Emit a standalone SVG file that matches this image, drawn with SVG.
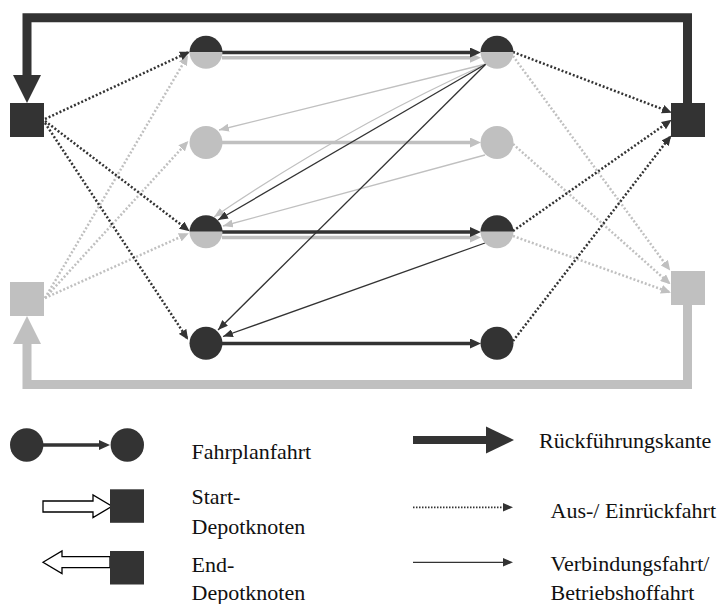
<svg xmlns="http://www.w3.org/2000/svg" width="719" height="604" viewBox="0 0 719 604">
  <style>
    .dk { fill: #333333; }
    .gy { fill: #c0c0c0; }
    .trip-dk { stroke: #333333; stroke-width: 3.5; fill: none; }
    .trip-gy { stroke: #c0c0c0; stroke-width: 3.5; fill: none; }
    .dot-dk { stroke: #333333; stroke-width: 2.5; stroke-dasharray: 2 2; fill: none; }
    .dot-gy { stroke: #c0c0c0; stroke-width: 2.5; stroke-dasharray: 2 2; fill: none; }
    .thin-dk { stroke: #333333; stroke-width: 1.3; fill: none; }
    .thin-gy { stroke: #c0c0c0; stroke-width: 1.3; fill: none; }
    .back-dk { stroke: #333333; stroke-width: 9; fill: none; }
    .back-gy { stroke: #c0c0c0; stroke-width: 9; fill: none; }
    .hollow { fill: #ffffff; stroke: #000000; stroke-width: 1.3; }
    .lbl { font-family: "Liberation Serif", "Times New Roman", serif; font-size: 22px; fill: #111111; }
  </style>
  <defs>
    <marker id="m-trip-dk" markerUnits="userSpaceOnUse" markerWidth="11" markerHeight="10" refX="1" refY="5" orient="auto"><path d="M0,0 L11,5 L0,10 z" class="dk"/></marker>
    <marker id="m-trip-gy" markerUnits="userSpaceOnUse" markerWidth="11" markerHeight="10" refX="1" refY="5" orient="auto"><path d="M0,0 L11,5 L0,10 z" class="gy"/></marker>
    <marker id="m-dot-dk" markerUnits="userSpaceOnUse" markerWidth="10" markerHeight="9" refX="8" refY="4.5" orient="auto"><path d="M0,0 L10,4.5 L0,9 z" class="dk"/></marker>
    <marker id="m-dot-gy" markerUnits="userSpaceOnUse" markerWidth="10" markerHeight="9" refX="8" refY="4.5" orient="auto"><path d="M0,0 L10,4.5 L0,9 z" class="gy"/></marker>
    <marker id="m-thin-dk" markerUnits="userSpaceOnUse" markerWidth="10" markerHeight="8" refX="10" refY="4" orient="auto"><path d="M0,0 L10,4 L0,8 z" class="dk"/></marker>
    <marker id="m-thin-gy" markerUnits="userSpaceOnUse" markerWidth="10" markerHeight="8" refX="10" refY="4" orient="auto"><path d="M0,0 L10,4 L0,8 z" class="gy"/></marker>
  </defs>

  <!-- connectors -->
  <g id="connectors">
    <!-- return edges -->
    <path class="back-gy" d="M687.5,305 V384.5 H27 V343"/>
    <polygon class="gy" points="13,344 41,344 27,316"/>
    <path class="back-dk" d="M687.5,103 V17.8 H27 V76"/>
    <polygon class="dk" points="13,75 41,75 27,103"/>

    <!-- pull-out / pull-in, grey -->
    <line class="dot-gy" x1="45" y1="298" x2="187" y2="57" marker-end="url(#m-dot-gy)"/>
    <line class="dot-gy" x1="45" y1="298" x2="187" y2="142.5" marker-end="url(#m-dot-gy)"/>
    <line class="dot-gy" x1="45" y1="298" x2="187" y2="234" marker-end="url(#m-dot-gy)"/>
    <line class="dot-gy" x1="513" y1="56" x2="669" y2="269" marker-end="url(#m-dot-gy)"/>
    <line class="dot-gy" x1="513" y1="144" x2="669" y2="283" marker-end="url(#m-dot-gy)"/>
    <line class="dot-gy" x1="513" y1="236" x2="669" y2="292" marker-end="url(#m-dot-gy)"/>

    <!-- pull-out / pull-in, dark -->
    <line class="dot-dk" x1="45" y1="119" x2="188" y2="52.5" marker-end="url(#m-dot-dk)"/>
    <line class="dot-dk" x1="45" y1="121" x2="188" y2="230" marker-end="url(#m-dot-dk)"/>
    <line class="dot-dk" x1="45" y1="123" x2="187" y2="338" marker-end="url(#m-dot-dk)"/>
    <line class="dot-dk" x1="513" y1="52" x2="670" y2="112" marker-end="url(#m-dot-dk)"/>
    <line class="dot-dk" x1="513" y1="231" x2="670" y2="121" marker-end="url(#m-dot-dk)"/>
    <line class="dot-dk" x1="513" y1="341" x2="670" y2="137" marker-end="url(#m-dot-dk)"/>

    <!-- scheduled trips -->
    <line class="trip-gy" x1="222" y1="57.7" x2="471" y2="57.7" marker-end="url(#m-trip-gy)"/>
    <line class="trip-dk" x1="222" y1="52.5" x2="471" y2="52.5" marker-end="url(#m-trip-dk)"/>
    <line class="trip-gy" x1="222" y1="142.5" x2="471" y2="142.5" marker-end="url(#m-trip-gy)"/>
    <line class="trip-gy" x1="222" y1="237.5" x2="471" y2="237.5" marker-end="url(#m-trip-gy)"/>
    <line class="trip-dk" x1="222" y1="232" x2="471" y2="232" marker-end="url(#m-trip-dk)"/>
    <line class="trip-dk" x1="222" y1="343.5" x2="471" y2="343.5" marker-end="url(#m-trip-dk)"/>

    <!-- deadhead connections -->
    <line class="thin-gy" x1="486" y1="64" x2="219" y2="130" marker-end="url(#m-thin-gy)"/>
    <path class="thin-gy" d="M486,64 Q345,128 214,217" marker-end="url(#m-thin-gy)"/>
    <line class="thin-gy" x1="485" y1="155" x2="223" y2="226" marker-end="url(#m-thin-gy)"/>
    <line class="thin-dk" x1="486" y1="64" x2="218" y2="220" marker-end="url(#m-thin-dk)"/>
    <line class="thin-dk" x1="486" y1="64" x2="218" y2="330" marker-end="url(#m-thin-dk)"/>
    <line class="thin-dk" x1="485" y1="243" x2="223" y2="336.5" marker-end="url(#m-thin-dk)"/>
  </g>

  <!-- depot nodes -->
  <g id="depot-start-dark"><rect class="dk" x="10" y="103" width="34" height="34"/></g>
  <g id="depot-start-grey"><rect class="gy" x="10" y="282" width="34" height="34"/></g>
  <g id="depot-end-dark"><rect class="dk" x="671" y="103" width="34" height="34"/></g>
  <g id="depot-end-grey"><rect class="gy" x="671" y="271" width="34" height="34"/></g>

  <!-- trip nodes -->
  <g id="trip1-start">
    <path class="dk" d="M189.5,52.3 A16.5,16.5 0 0 1 222.5,52.3 z"/>
    <path class="gy" d="M189.5,52.3 A16.5,16.5 0 0 0 222.5,52.3 z"/>
  </g>
  <g id="trip1-end">
    <path class="dk" d="M480.5,52.3 A16.5,16.5 0 0 1 513.5,52.3 z"/>
    <path class="gy" d="M480.5,52.3 A16.5,16.5 0 0 0 513.5,52.3 z"/>
  </g>
  <g id="trip2-start"><circle class="gy" cx="206" cy="142.5" r="16.5"/></g>
  <g id="trip2-end"><circle class="gy" cx="497" cy="142.5" r="16.5"/></g>
  <g id="trip3-start">
    <path class="dk" d="M189.5,231.8 A16.5,16.5 0 0 1 222.5,231.8 z"/>
    <path class="gy" d="M189.5,231.8 A16.5,16.5 0 0 0 222.5,231.8 z"/>
  </g>
  <g id="trip3-end">
    <path class="dk" d="M480.5,231.8 A16.5,16.5 0 0 1 513.5,231.8 z"/>
    <path class="gy" d="M480.5,231.8 A16.5,16.5 0 0 0 513.5,231.8 z"/>
  </g>
  <g id="trip4-start"><circle class="dk" cx="206" cy="343.3" r="16.5"/></g>
  <g id="trip4-end"><circle class="dk" cx="497" cy="343.3" r="16.5"/></g>

  <!-- legend -->
  <g id="legend-trip">
    <line class="trip-dk" x1="43" y1="445" x2="100" y2="445" marker-end="url(#m-trip-dk)"/>
    <circle class="dk" cx="26.7" cy="445" r="16.7"/>
    <circle class="dk" cx="127.3" cy="445" r="16.7"/>
    <text class="lbl" x="191.5" y="459">Fahrplanfahrt</text>
  </g>
  <g id="legend-start-depot">
    <polygon class="hollow" points="43,501 93,501 93,495 112,506.3 93,517.5 93,512 43,512"/>
    <rect class="dk" x="110" y="489.3" width="34" height="33.5"/>
    <text class="lbl" x="191.5" y="504">Start-</text>
    <text class="lbl" x="191.5" y="534">Depotknoten</text>
  </g>
  <g id="legend-end-depot">
    <polygon class="hollow" points="43,562.3 62,551 62,556.7 110,556.7 110,567.7 62,567.7 62,573.5"/>
    <rect class="dk" x="110" y="551" width="34" height="33.5"/>
    <text class="lbl" x="191.5" y="572">End-</text>
    <text class="lbl" x="191.5" y="600">Depotknoten</text>
  </g>
  <g id="legend-return">
    <rect class="dk" x="413" y="436" width="74" height="8"/>
    <polygon class="dk" points="486,426.5 514,440 486,453.5"/>
    <text class="lbl" x="539" y="448">Rückführungskante</text>
  </g>
  <g id="legend-pull">
    <line stroke="#333333" stroke-width="1.8" stroke-dasharray="1.5 1.5" x1="413" y1="507.3" x2="504" y2="507.3"/>
    <polygon class="dk" points="503,503 513,507.3 503,511.6"/>
    <text class="lbl" x="550.5" y="518">Aus-/ Einrückfahrt</text>
  </g>
  <g id="legend-deadhead">
    <line class="thin-dk" x1="413" y1="562.3" x2="504" y2="562.3"/>
    <polygon class="dk" points="503,558 513,562.3 503,566.6"/>
    <text class="lbl" x="550.5" y="571">Verbindungsfahrt/</text>
    <text class="lbl" x="550.5" y="600">Betriebshoffahrt</text>
  </g>
</svg>
